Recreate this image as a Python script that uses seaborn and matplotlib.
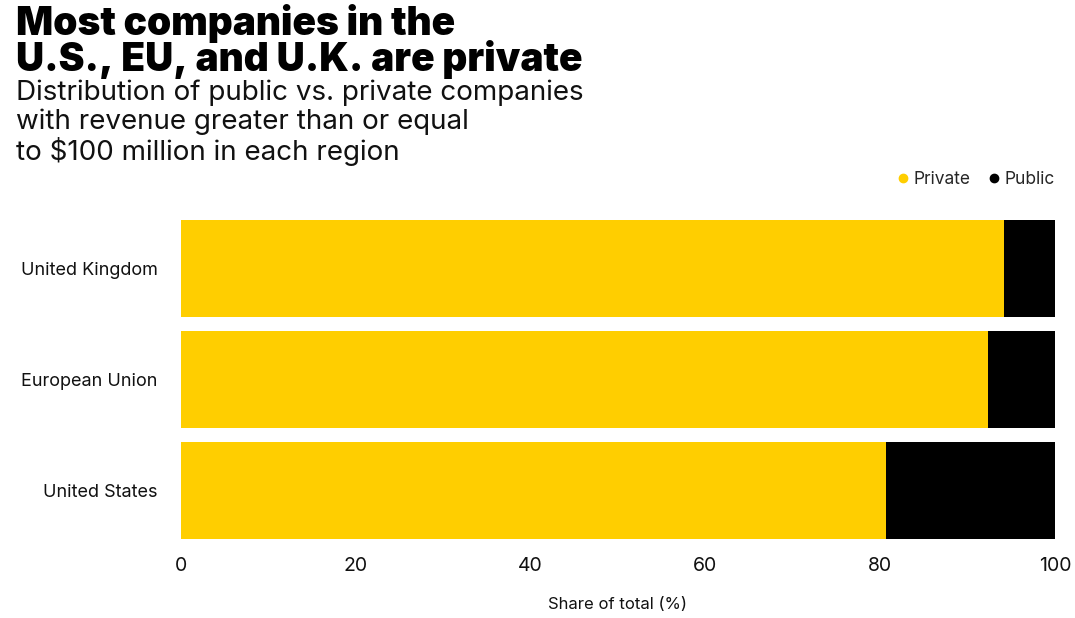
import matplotlib
matplotlib.use("Agg")
import matplotlib.pyplot as plt
import seaborn as sns
import pandas as pd
from matplotlib.lines import Line2D

regions = ["United Kingdom", "European Union", "United States"]
private = [94.2, 92.3, 80.7]
public = [5.8, 7.7, 19.3]
xticks = [0, 20, 40, 60, 80, 100]

YELLOW = "#FFCE00"
BLACK = "#000000"

sns.set_theme(style="white")
plt.rcParams["font.family"] = ["Inter", "DejaVu Sans"]

df = pd.DataFrame({"region": regions, "private": private, "public": public})
df["total"] = df["private"] + df["public"]

fig = plt.figure(figsize=(10.75, 6.18), dpi=100)
ax = fig.add_axes([181/1075, 1-539/618, (1055-181)/1075, (539-220)/618])

sns.barplot(data=df, x="total", y="region", color=BLACK, width=0.874,
            saturation=1, ax=ax, orient="h", linewidth=0)
sns.barplot(data=df, x="private", y="region", color=YELLOW, width=0.874,
            saturation=1, ax=ax, orient="h", linewidth=0)

ax.set_xlim(0, 100)
ax.set_ylim(2.437, -0.437)
ax.set_xticks(xticks)
ax.set_xticklabels([str(t) for t in xticks], fontsize=14, color="#111111")
ax.tick_params(axis="x", length=0, pad=13)
ax.tick_params(axis="y", length=0, pad=17, labelsize=13, labelcolor="#111111")
ax.set_ylabel("")
ax.set_xlabel("Share of total (%)", fontsize=12, color="#111111", labelpad=16)
for s in ax.spines.values():
    s.set_visible(False)

fig.text(16/1075, 1-4/618, "Most companies in the\nU.S., EU, and U.K. are private",
         fontsize=28, fontweight="black", va="top", ha="left",
         linespacing=0.91, color="#000000")
fig.text(16/1075, 1-80/618,
         "Distribution of public vs. private companies\nwith revenue greater than or equal\nto $100 million in each region",
         fontsize=20, va="top", ha="left", linespacing=1.1, color="#111111")

handles = [Line2D([], [], marker="o", linestyle="", color=YELLOW, markersize=6),
           Line2D([], [], marker="o", linestyle="", color=BLACK, markersize=6)]
fig.legend(handles, ["Private", "Public"], loc="center right",
           bbox_to_anchor=(1062/1075, 1-180/618), ncol=2, frameon=False,
           fontsize=12.5, handletextpad=0.1, columnspacing=0.9,
           handlelength=1.0, borderaxespad=0)

fig.savefig("out.png", dpi=100)
